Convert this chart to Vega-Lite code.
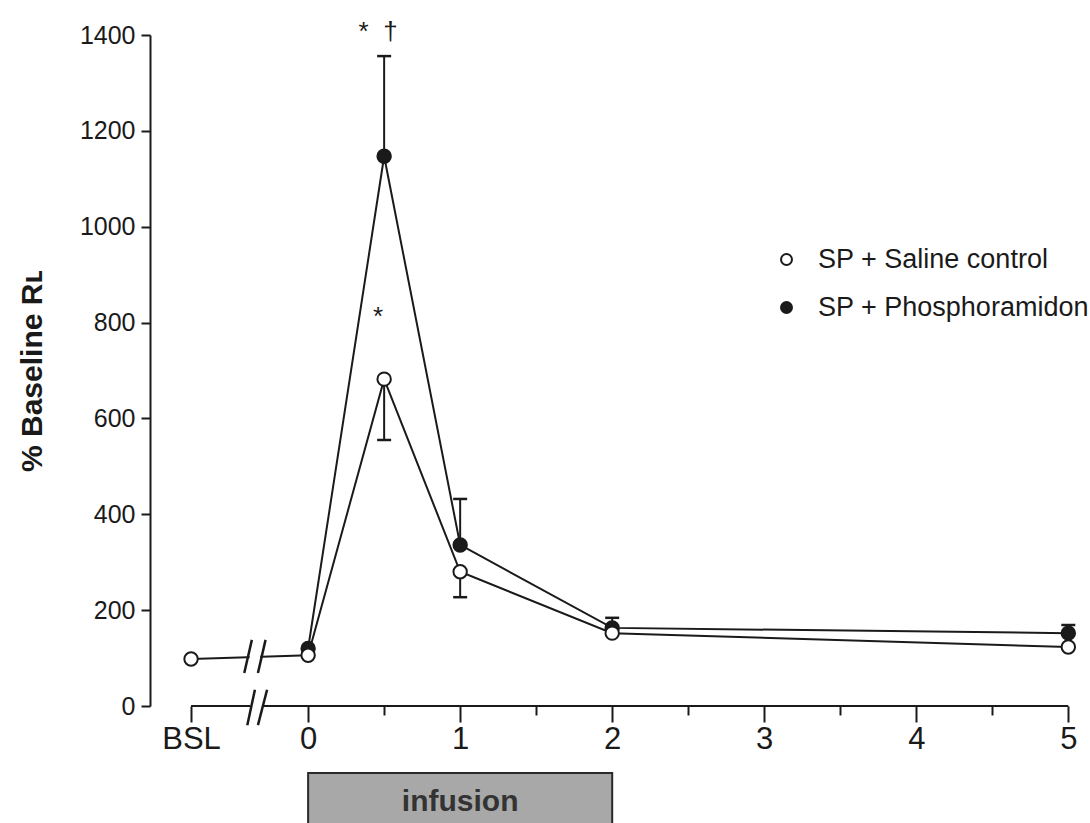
{
  "$schema": "https://vega.github.io/schema/vega-lite/v6.json",
  "width": 932,
  "height": 671,
  "autosize": {"type": "none"},
  "padding": {"left": 150, "top": 35, "right": 8, "bottom": 117},
  "background": "white",
  "config": {"font": "Liberation Sans", "view": {"stroke": null}, "axis": {"grid": false}},
  "datasets": {
    "series": [
      {"time": -0.77, "group": "SP + Saline control", "value": 98},
      {"time": 0, "group": "SP + Saline control", "value": 106},
      {"time": 0.5, "group": "SP + Saline control", "value": 682},
      {"time": 1, "group": "SP + Saline control", "value": 280},
      {"time": 2, "group": "SP + Saline control", "value": 152},
      {"time": 5, "group": "SP + Saline control", "value": 123},
      {"time": 0, "group": "SP + Phosphoramidon", "value": 120},
      {"time": 0.5, "group": "SP + Phosphoramidon", "value": 1147},
      {"time": 1, "group": "SP + Phosphoramidon", "value": 336},
      {"time": 2, "group": "SP + Phosphoramidon", "value": 163},
      {"time": 5, "group": "SP + Phosphoramidon", "value": 152}
    ],
    "errors": [
      {"time": 0.5, "group": "SP + Phosphoramidon", "value": 1147, "end": 1356},
      {"time": 0.5, "group": "SP + Saline control", "value": 682, "end": 555},
      {"time": 1, "group": "SP + Phosphoramidon", "value": 336, "end": 432},
      {"time": 1, "group": "SP + Saline control", "value": 280, "end": 227},
      {"time": 2, "group": "SP + Phosphoramidon", "value": 163, "end": 184},
      {"time": 5, "group": "SP + Phosphoramidon", "value": 152, "end": 169}
    ],
    "axisline": [
      {"from": -0.77, "to": -0.38},
      {"from": -0.3, "to": 5}
    ],
    "breaks": [
      {"x1": -0.4, "x2": -0.35, "y1": -40, "y2": 34},
      {"x1": -0.33, "x2": -0.27, "y1": -40, "y2": 34},
      {"x1": -0.42, "x2": -0.37, "y1": 69, "y2": 138},
      {"x1": -0.33, "x2": -0.28, "y1": 69, "y2": 138}
    ],
    "gap": [
      {"x1": -0.385, "x2": -0.315, "y1": 85, "y2": 122}
    ],
    "notes": [
      {"time": 0.5, "value": 1390, "label": "*\u00a0\u00a0†"},
      {"time": 0.5, "value": 795, "label": "*"}
    ],
    "infusion": [
      {"start": 0, "end": 2, "top": -140, "bottom": -275, "mid": 1, "level": -200, "label": "infusion"}
    ]
  },
  "layer": [
    {
      "data": {"name": "axisline"},
      "mark": {"type": "rule", "color": "#1a1a1a", "strokeWidth": 2},
      "encoding": {
        "x": {
          "field": "from", "type": "quantitative",
          "scale": {"domain": [-1.04, 5.09], "nice": false, "zero": false},
          "axis": {
            "domain": false,
            "values": [-0.77, 0, 0.5, 1, 1.5, 2, 2.5, 3, 3.5, 4, 4.5, 5],
            "labelExpr": "datum.value < 0 ? 'BSL' : (datum.value % 1 === 0 ? format(datum.value, 'd') : '')",
            "tickSize": {"condition": {"test": "datum.value > 0 && datum.value % 1 !== 0", "value": 9}, "value": 16},
            "tickWidth": 2,
            "tickColor": "#1a1a1a",
            "labelFontSize": 31,
            "labelColor": "#1a1a1a",
            "labelPadding": 2,
            "labelFlush": false,
            "labelOverlap": false,
            "title": null
          }
        },
        "x2": {"field": "to"},
        "y": {
          "datum": 0, "type": "quantitative",
          "scale": {"domain": [0, 1400], "nice": false},
          "axis": {
            "values": [0, 200, 400, 600, 800, 1000, 1200, 1400],
            "format": "d",
            "tickSize": 9,
            "tickWidth": 2,
            "tickColor": "#1a1a1a",
            "domainWidth": 2,
            "domainColor": "#1a1a1a",
            "labelFontSize": 25,
            "labelColor": "#1a1a1a",
            "labelPadding": 6,
            "title": "% Baseline R\u029f",
            "titleFontSize": 30,
            "titleFontWeight": "bold",
            "titleColor": "#1a1a1a",
            "titlePadding": 32
          }
        }
      }
    },
    {
      "data": {"name": "infusion"},
      "mark": {"type": "rect", "fill": "#a8a8a8", "stroke": "#2a2a2a", "strokeWidth": 2},
      "encoding": {
        "x": {"field": "start", "type": "quantitative"},
        "x2": {"field": "end"},
        "y": {"field": "top", "type": "quantitative"},
        "y2": {"field": "bottom"}
      }
    },
    {
      "data": {"name": "infusion"},
      "mark": {"type": "text", "fontSize": 30, "fontWeight": "bold", "color": "#333333", "baseline": "middle", "align": "center"},
      "encoding": {
        "x": {"field": "mid", "type": "quantitative"},
        "y": {"field": "level", "type": "quantitative"},
        "text": {"field": "label"}
      }
    },
    {
      "data": {"name": "series"},
      "mark": {"type": "line", "color": "#1a1a1a", "strokeWidth": 2},
      "encoding": {
        "x": {"field": "time", "type": "quantitative"},
        "y": {"field": "value", "type": "quantitative"},
        "detail": {"field": "group"}
      }
    },
    {
      "data": {"name": "gap"},
      "mark": {"type": "rect", "fill": "white"},
      "encoding": {
        "x": {"field": "x1", "type": "quantitative"},
        "x2": {"field": "x2"},
        "y": {"field": "y1", "type": "quantitative"},
        "y2": {"field": "y2"}
      }
    },
    {
      "data": {"name": "breaks"},
      "mark": {"type": "rule", "color": "#1a1a1a", "strokeWidth": 2.5},
      "encoding": {
        "x": {"field": "x1", "type": "quantitative"},
        "x2": {"field": "x2"},
        "y": {"field": "y1", "type": "quantitative"},
        "y2": {"field": "y2"}
      }
    },
    {
      "data": {"name": "errors"},
      "mark": {"type": "rule", "color": "#1a1a1a", "strokeWidth": 2},
      "encoding": {
        "x": {"field": "time", "type": "quantitative"},
        "y": {"field": "value", "type": "quantitative"},
        "y2": {"field": "end"}
      }
    },
    {
      "data": {"name": "errors"},
      "mark": {"type": "tick", "orient": "horizontal", "color": "#1a1a1a", "size": 14, "thickness": 2.5, "opacity": 1},
      "encoding": {
        "x": {"field": "time", "type": "quantitative"},
        "y": {"field": "end", "type": "quantitative"}
      }
    },
    {
      "data": {"name": "series"},
      "mark": {"type": "point", "shape": "circle", "filled": true, "stroke": "#1a1a1a", "strokeWidth": 2, "size": 180, "opacity": 1},
      "encoding": {
        "x": {"field": "time", "type": "quantitative"},
        "y": {"field": "value", "type": "quantitative"},
        "fill": {
          "field": "group", "type": "nominal",
          "scale": {"domain": ["SP + Saline control", "SP + Phosphoramidon"], "range": ["#ffffff", "#1a1a1a"]},
          "legend": {
            "title": null,
            "orient": "none",
            "legendX": 623,
            "legendY": 211,
            "labelFontSize": 27,
            "labelColor": "#1a1a1a",
            "labelLimit": 400,
            "symbolType": "circle",
            "symbolSize": 120,
            "symbolStrokeColor": "#1a1a1a",
            "symbolStrokeWidth": 2,
            "labelOffset": 18,
            "rowPadding": 20
          }
        },
        "order": {"field": "group", "sort": "ascending"}
      }
    },
    {
      "data": {"name": "notes"},
      "mark": {"type": "text", "fontSize": 26, "color": "#1a1a1a", "baseline": "alphabetic", "align": "center", "dx": -6},
      "encoding": {
        "x": {"field": "time", "type": "quantitative"},
        "y": {"field": "value", "type": "quantitative"},
        "text": {"field": "label"}
      }
    }
  ]
}
